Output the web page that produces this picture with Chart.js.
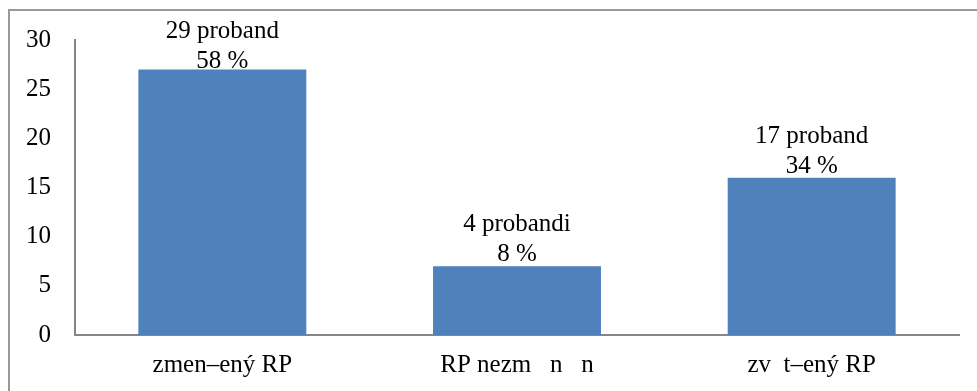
<!DOCTYPE html>
<html lang="cs">
  <head>
    <meta charset="UTF-8" />
    <title>RP</title>
    <script src="https://cdn.jsdelivr.net/npm/chart.js"></script>
    <style>
      body {
        margin: 0;
        background: #fff;
      }
      .wrap {
        position: relative;
        width: 977px;
        height: 391px;
      }
      .frame {
        position: absolute;
        left: 8px;
        top: 9px;
        right: 0;
        bottom: 0;
        border-top: 2px solid #999;
        border-left: 2px solid #999;
        pointer-events: none;
      }
    </style>
  </head>
  <body>
    <div class="wrap">
      <canvas id="rpChart" width="977" height="391"></canvas>
      <div class="frame"></div>
    </div>

    <script>
      const categories = ["zmen–ený RP", "RP nezm   n   n", "zv  t–ený RP"];
      const values = [27, 7, 16];
      const countLabels = ["29 proband", "4 probandi", "17 proband"];
      const percentLabels = ["58 %", "8 %", "34 %"];

      const serif = "'Liberation Serif', 'Times New Roman', serif";

      // two-line label above each bar, kept inside the plot like Excel does
      const barLabels = {
        id: "barLabels",
        afterDatasetsDraw(chart) {
          const ctx = chart.ctx;
          const meta = chart.getDatasetMeta(0);
          ctx.save();
          ctx.fillStyle = "#000";
          ctx.font = "25px " + serif;
          ctx.textAlign = "center";
          ctx.textBaseline = "alphabetic";
          meta.data.forEach((bar, i) => {
            const first = Math.max(bar.y - 35, chart.chartArea.top - 2);
            ctx.fillText(countLabels[i], bar.x, first);
            ctx.fillText(percentLabels[i], bar.x, first + 30);
          });
          ctx.restore();
        },
      };

      new Chart(document.getElementById("rpChart"), {
        type: "bar",
        data: {
          labels: categories,
          datasets: [
            {
              data: values,
              backgroundColor: "#4f81bd",
              borderWidth: 0,
              categoryPercentage: 1,
              barPercentage: 0.57,
            },
          ],
        },
        options: {
          responsive: false,
          animation: false,
          layout: {
            padding: { top: 40, right: 18, left: 0, bottom: 0 },
          },
          plugins: {
            legend: { display: false },
            tooltip: { enabled: false },
          },
          scales: {
            x: {
              grid: { display: false, drawTicks: false },
              border: { display: true, color: "#868686", width: 2 },
              ticks: {
                color: "#000",
                font: { family: serif, size: 25 },
                padding: 15,
                maxRotation: 0,
              },
              afterFit(scale) {
                scale.height = 56;
              },
            },
            y: {
              min: 0,
              max: 30,
              grid: { display: false, drawTicks: false },
              border: { display: true, color: "#868686", width: 2 },
              ticks: {
                stepSize: 5,
                color: "#000",
                font: { family: serif, size: 25 },
                padding: 24,
              },
              afterFit(scale) {
                scale.width = 75;
              },
            },
          },
        },
        plugins: [barLabels],
      });
    </script>
  </body>
</html>
